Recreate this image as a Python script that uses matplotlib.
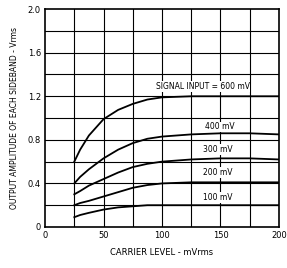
import matplotlib
matplotlib.use("Agg")
from matplotlib import pyplot as plt

carrier = [25, 30, 37.5, 50, 62.5, 75, 87.5, 100, 125, 150, 175, 200]
out_600 = [0.60, 0.71, 0.84, 0.99, 1.075, 1.13, 1.17, 1.19, 1.20, 1.20, 1.20, 1.20]
out_400 = [0.40, 0.46, 0.53, 0.63, 0.71, 0.77, 0.81, 0.83, 0.85, 0.86, 0.86, 0.85]
out_300 = [0.30, 0.33, 0.38, 0.44, 0.50, 0.55, 0.58, 0.60, 0.62, 0.63, 0.63, 0.62]
out_200 = [0.20, 0.22, 0.24, 0.28, 0.32, 0.36, 0.385, 0.40, 0.41, 0.41, 0.41, 0.41]
out_100 = [0.09, 0.11, 0.13, 0.16, 0.18, 0.19, 0.20, 0.20, 0.20, 0.20, 0.20, 0.20]
curve_labels = ["SIGNAL INPUT = 600 mV", "400 mV", "300 mV", "200 mV", "100 mV"]
label_pos = [(175, 1.29), (162, 0.92), (160, 0.71), (160, 0.50), (160, 0.27)]

fig = plt.figure(figsize=(2.87, 2.68), dpi=100)
ax = fig.add_axes([0.157, 0.153, 0.815, 0.813])

for x in range(25, 200, 25):
    ax.axvline(x, color="black", lw=0.8)
for y in [0.2, 0.4, 0.6, 0.8, 1.0, 1.2, 1.4, 1.6, 1.8]:
    ax.axhline(y, color="black", lw=0.8)

for vals in [out_600, out_400, out_300, out_200, out_100]:
    ax.plot(carrier, vals, color="black", lw=1.3)

for txt, (x, y) in zip(curve_labels, label_pos):
    ax.text(x, y, txt, ha="right", va="center", fontsize=5.5,
            family="DejaVu Sans", bbox=dict(fc="white", ec="none", pad=0.5))

ax.set_xlim(0, 200)
ax.set_ylim(0, 2.0)
ax.set_xticks([0, 50, 100, 150, 200])
ax.set_yticks([0, 0.4, 0.8, 1.2, 1.6, 2.0])
ax.set_yticklabels(["0", "0.4", "0.8", "1.2", "1.6", "2.0"])
ax.tick_params(axis="both", length=0, labelsize=6, pad=3)
for s in ax.spines.values():
    s.set_linewidth(1.2)

ax.set_xlabel("CARRIER LEVEL - mVrms", fontsize=6, labelpad=6)
ax.set_ylabel("OUTPUT AMPLITUDE OF EACH SIDEBAND - Vrms", fontsize=5.5, labelpad=6)

fig.savefig("out.png", dpi=100)
